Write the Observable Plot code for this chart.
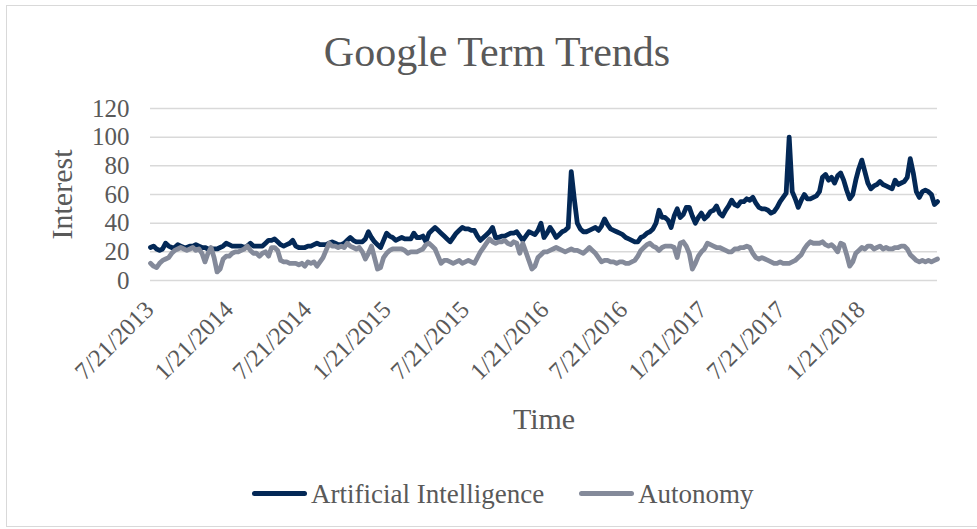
<!DOCTYPE html>
<html><head><meta charset="utf-8">
<script src="https://cdn.jsdelivr.net/npm/d3@7"></script>
<script src="https://cdn.jsdelivr.net/npm/@observablehq/plot@0.6"></script>
<style>
body{margin:0;background:#fff;}
#chart{position:relative;width:977px;height:529px;overflow:hidden;font-family:"Liberation Serif","Times New Roman",serif;color:#595959;}
#frame{position:absolute;left:6px;top:5px;width:990px;height:522px;border:1px solid #D9D9D9;box-sizing:border-box;}
#title{position:absolute;left:497px;top:31px;transform:translateX(-50%);font-size:42px;line-height:42px;white-space:nowrap;}
#plot{position:absolute;left:0;top:90px;}
.sw{position:absolute;height:5px;border-radius:3px;top:491px;}
.lt{position:absolute;top:481px;font-size:27px;line-height:27px;white-space:nowrap;}
</style>
</head><body>
<div id="chart">
  <div id="frame"></div>
  <div id="title">Google Term Trends</div>
  <div id="plot"></div>
  <div class="sw" id="sw0" style="left:252px;width:55px;"></div>
  <div class="lt" id="lt0" style="left:311px;"></div>
  <div class="sw" id="sw1" style="left:579px;width:55px;"></div>
  <div class="lt" id="lt1" style="left:638px;"></div>
</div>
<script>
// Weekly Google Trends interest, starting 7/21/2013
const startDate = "2013-07-21";
const endDate = "2018-07-15";
const seriesNames = ["Artificial Intelligence", "Autonomy"];
const seriesColors = ["#032856", "#848A9A"];
const aiValues = [
  23,24,22,21,22,26,24,23,23,25,
  24,23,23,24,24,25,24,23,23,22,
  22,22,22,23,24,26,25,24,24,24,
  24,23,24,26,24,24,24,24,26,28,
  28,29,27,25,24,25,26,28,24,23,
  23,23,24,24,25,26,25,25,25,26,
  27,26,25,25,26,28,30,28,27,27,
  27,29,34,30,27,25,23,28,33,31,
  30,28,29,30,29,29,29,33,30,30,
  31,27,33,35,37,35,33,31,29,27,
  30,33,35,37,36,36,35,35,31,28,
  30,32,34,37,30,30,31,31,32,33,
  33,34,31,28,31,34,33,32,35,40,
  30,33,37,34,30,32,34,35,37,76,
  57,40,36,34,34,35,36,37,35,38,
  43,39,36,35,34,33,32,30,29,28,
  27,27,30,31,33,34,36,40,49,44,
  44,42,37,45,50,44,46,51,51,45,
  40,44,47,43,45,48,49,52,47,45,
  49,52,56,53,52,55,55,57,56,58,
  54,51,50,50,49,47,48,51,55,58,
  61,100,62,57,51,56,60,57,57,58,
  59,62,72,74,70,72,68,73,75,70,
  63,57,60,70,78,84,76,68,64,66,
  67,69,67,66,65,64,70,67,68,69,
  72,85,75,62,58,62,63,62,60,53,
  55
];
const autonomyValues = [
  12,10,9,12,14,15,16,19,21,22,
  23,22,21,22,23,21,22,19,13,19,
  23,16,6,8,15,17,17,19,20,20,
  21,22,24,21,19,19,17,19,20,17,
  23,23,21,14,13,13,12,12,12,11,
  12,10,13,12,13,10,13,16,21,26,
  24,24,23,24,23,26,24,23,22,23,
  20,15,19,24,16,8,9,16,19,21,
  22,22,22,22,21,19,20,20,20,21,
  22,25,26,24,22,17,12,14,14,13,
  12,13,14,12,13,14,13,12,16,20,
  23,26,29,27,26,27,27,28,26,25,
  27,26,19,26,20,14,8,10,16,18,
  20,20,21,22,23,22,21,20,21,22,
  21,21,20,19,21,23,21,19,16,13,
  14,14,13,13,12,13,13,12,12,13,
  14,17,21,23,25,26,24,23,21,23,
  24,24,24,23,16,26,27,24,19,8,
  12,17,20,22,26,25,24,23,23,22,
  21,20,20,22,22,23,23,24,23,19,
  16,15,16,15,14,13,12,12,13,12,
  12,12,13,14,16,18,22,25,27,26,
  26,26,27,25,24,25,23,20,26,25,
  18,10,13,19,21,23,22,24,24,22,
  23,24,22,23,22,22,23,23,24,24,
  22,18,16,14,13,14,13,14,13,14,
  15
];
const xTickLabels = ["7/21/2013","1/21/2014","7/21/2014","1/21/2015","7/21/2015","1/21/2016","7/21/2016","1/21/2017","7/21/2017","1/21/2018"];
const yTicks = [0,20,40,60,80,100,120];

const parseMDY = d3.utcParse("%m/%d/%Y");
const fmtMDY = d3.utcFormat("%-m/%-d/%Y");
const start = new Date(startDate + "T00:00:00Z");
const weekDate = i => d3.utcWeek.offset(start, i);
const rows = (vals, name) => vals.map((v, i) => ({date: weekDate(i), value: v, series: name}));
const aiRows = rows(aiValues, seriesNames[0]);
const autRows = rows(autonomyValues, seriesNames[1]);
const xTicks = xTickLabels.map(parseMDY);
const font = "'Liberation Serif','Times New Roman',serif";

const chart = Plot.plot({
  width: 977, height: 370,
  marginTop: 18, marginBottom: 180, marginLeft: 150, marginRight: 40,
  style: {fontFamily: font, color: "#595959", background: "transparent", overflow: "visible"},
  x: {type: "utc", domain: [start, new Date(endDate + "T00:00:00Z")]},
  y: {domain: [0, 120]},
  marks: [
    Plot.gridY(yTicks, {stroke: "#D9D9D9", strokeOpacity: 1, strokeWidth: 1.5}),
    Plot.axisY(yTicks, {tickSize: 0, tickPadding: 21, fontSize: 25, label: null}),
    Plot.axisX(xTicks, {tickSize: 0, tickPadding: 25, dx: -1, tickRotate: -45, textAnchor: "end", tickFormat: fmtMDY, fontSize: 24.5, label: null}),
    Plot.line(aiRows, {x: "date", y: "value", stroke: seriesColors[0], strokeWidth: 4.8, strokeLinejoin: "round", strokeLinecap: "round"}),
    Plot.line(autRows, {x: "date", y: "value", stroke: seriesColors[1], strokeWidth: 4.8, strokeLinejoin: "round", strokeLinecap: "round"}),
    Plot.text(["Interest"], {text: d => d, frameAnchor: "left", textAnchor: "middle", dx: -88, rotate: -90, fontSize: 30, fill: "#595959"}),
    Plot.text(["Time"], {text: d => d, frameAnchor: "bottom", dy: 148, fontSize: 30, fill: "#595959"})
  ]
});
document.getElementById("plot").appendChild(chart);
document.getElementById("sw0").style.background = seriesColors[0];
document.getElementById("sw1").style.background = seriesColors[1];
document.getElementById("lt0").textContent = seriesNames[0];
document.getElementById("lt1").textContent = seriesNames[1];
</script>
</body></html>
